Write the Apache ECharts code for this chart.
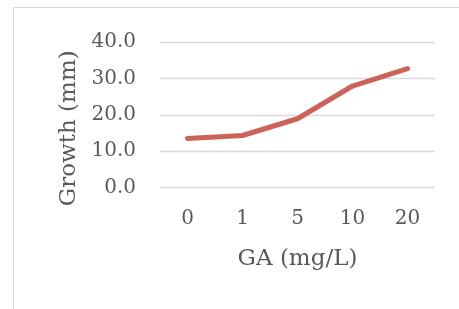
<!DOCTYPE html>
<html style="height: 100%">
<head>
    <meta charset="utf-8">
</head>
<body style="height: 100%; margin: 0; background: #fff">
<div id="container" style="width: 459px; height: 309px"></div>
<script type="text/javascript" src="https://cdn.jsdelivr.net/npm/echarts@6/dist/echarts.min.js"></script>
<script type="text/javascript">
  // GA concentration (mg/L) and measured growth (mm)
  const doses = ['0', '1', '5', '10', '20'];
  const growth = [13.5, 14.3, 18.9, 27.9, 32.7];

  const textColor = '#595959';
  const font = 'DejaVu Serif';

  var dom = document.getElementById('container');
  var myChart = echarts.init(dom);
  var option = {
    animation: false,
    graphic: [
      {
        type: 'rect',
        shape: { x: 13.5, y: 7.5, width: 600, height: 400 },
        style: { fill: 'none', stroke: '#d9d9d9', lineWidth: 1 },
        silent: true
      }
    ],
    grid: { left: 160, right: 24, top: 42, bottom: 121.5 },
    xAxis: {
      type: 'category',
      data: doses,
      boundaryGap: true,
      name: 'GA (mg/L)',
      nameLocation: 'middle',
      nameGap: 60,
      nameTextStyle: { fontFamily: font, fontSize: 23, color: textColor },
      axisLine: { show: false },
      axisTick: { show: false },
      axisLabel: { fontFamily: font, fontSize: 20, color: textColor, margin: 21 }
    },
    yAxis: {
      type: 'value',
      min: 0,
      max: 40,
      interval: 10,
      name: 'Growth (mm)',
      nameLocation: 'middle',
      nameGap: 78,
      // the title sits a little below the middle of the plot
      nameTextStyle: { fontFamily: font, fontSize: 23, color: textColor, padding: [0, 27, 0, 0] },
      axisLine: { show: false },
      axisTick: { show: false },
      axisLabel: {
        fontFamily: font, fontSize: 20, color: textColor, margin: 24,
        formatter: v => v.toFixed(1)
      },
      splitLine: { lineStyle: { color: '#d9d9d9', width: 1.3 } }
    },
    series: [
      {
        type: 'line',
        data: growth,
        symbol: 'none',
        lineStyle: { color: '#cd6259', width: 5, cap: 'round', join: 'round' }
      }
    ]
  };
  myChart.setOption(option);
</script>
</body>
</html>
